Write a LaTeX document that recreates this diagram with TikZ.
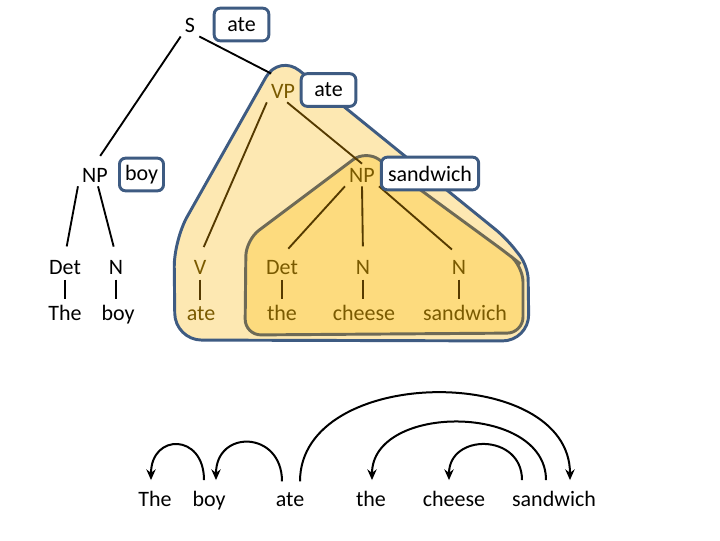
\documentclass[tikz,border=0pt]{standalone}
\usepackage{fontspec}
\setmainfont{Carlito}
\usetikzlibrary{arrows.meta}

\definecolor{vpfill}{HTML}{FDE8B2}
\definecolor{npfill}{HTML}{FDDB7E}
\definecolor{vpline}{HTML}{3E5B82}
\definecolor{npline}{HTML}{6E6A56}
\definecolor{cattext}{HTML}{7A5A00}
\definecolor{catline}{HTML}{553A00}

\tikzset{
  cat/.style={inner sep=3pt},
  leafcat/.style={inner sep=3pt, anchor=base},
  leafword/.style={inner sep=3pt, anchor=base},
  word/.style={inner sep=3pt, outer sep=5pt, anchor=base},
  headbox/.style={draw=vpline, line width=2.2pt, rounded corners=4.5pt, fill=white,
    inner xsep=0pt, minimum height=24.5pt, minimum width=#1},
  branch/.style={line width=1.4pt},
  toleaf/.style={branch, shorten >=7pt},
  bar/.style={branch, shorten <=1pt, shorten >=1pt},
  deparc/.style={line width=1.5pt, -{Stealth[length=8pt,width=7pt]}},
}

\begin{document}
\begin{tikzpicture}[x=0.75pt, y=-0.75pt, font=\fontsize{16.5}{19}\selectfont]
\useasboundingbox (0,0) rectangle (720,540);

% shaded constituents
\filldraw[fill=vpfill, draw=vpline, line width=2.2pt, rounded corners=20pt]
  (279,54) -- (174,240) -- (175,340) -- (529,341) [rounded corners=10pt] -- (528,266) -- (506,238) [rounded corners=20pt] -- cycle;
\filldraw[fill=npfill, draw=npline, line width=2.2pt, rounded corners=12pt]
  (366,150) -- (246,240) -- (245,335) -- (523,333) -- (523,266) -- (508,254) -- cycle;

% tree nodes
\node[cat] (s) at (190,25) {S};
\node[cat] (np1) at (95,175) {NP};
\node[cat, text=cattext] (vp) at (283,91) {VP};
\node[cat, text=cattext] (np2) at (362,175) {NP};

\node[leafcat] (det1) at (65,274) {Det};
\node[leafword] (the1) at (65,320) {The};
\node[leafcat] (n1) at (116,274) {N};
\node[leafword] (boy1) at (118,320) {boy};
\node[leafcat, text=cattext] (v) at (200,274) {V};
\node[leafword, text=cattext] (ate1) at (201,320) {ate};
\node[leafcat, text=cattext] (det2) at (282,274) {Det};
\node[leafword, text=cattext] (the2) at (282,320) {the};
\node[leafcat, text=cattext] (n2) at (363,274) {N};
\node[leafword, text=cattext] (cheese1) at (364,320) {cheese};
\node[leafcat, text=cattext] (n3) at (459,274) {N};
\node[leafword, text=cattext] (sandwich1) at (465,320) {sandwich};

% branches
\draw[branch, shorten >=7pt] (s.south west) -- (np1.north);
\draw[branch, shorten >=10pt] (s.south east) -- (vp.north);
\draw[toleaf] (np1.south west) -- (det1.north);
\draw[toleaf] (np1.-75) -- (n1.north);
\draw[bar] (det1.south) -- (det1.south |- the1.north);
\draw[bar] (n1.south) -- (n1.south |- boy1.north);
\draw[toleaf, catline] (vp.south west) -- (v.north);
\draw[branch, catline] (vp.-70) -- (np2.north);
\draw[toleaf, catline] (np2.south west) -- (det2.north);
\draw[toleaf, catline] (np2.south) -- (n2.north);
\draw[toleaf, catline] (np2.south east) -- (n3.north);
\draw[bar, catline] (v.south) -- (v.south |- ate1.north);
\draw[bar, catline] (det2.south) -- (det2.south |- the2.north);
\draw[bar, catline] (n2.south) -- (n2.south |- cheese1.north);
\draw[bar, catline] (n3.south) -- (n3.south |- sandwich1.north);

% heads
\node[headbox=41pt] (sbox) at (241.5,24.5) {ate};
\node[headbox=41pt] (vpbox) at (328.5,90) {ate};
\node[headbox=33pt] (np1box) at (141.5,174.5) {boy};
\node[headbox=73pt] (np2box) at (430,173.5) {sandwich};

% dependency arcs
\node[word] (thew) at (155,506) {The};
\node[word] (boyw) at (209,506) {boy};
\node[word] (atew) at (290,506) {ate};
\node[word] (thew2) at (371,506) {the};
\node[word] (cheesew) at (454,506) {cheese};
\node[word] (sandwichw) at (554,506) {sandwich};

\draw[deparc] ([xshift=-3.75pt]boyw.north) .. controls +(0,-47) and +(0,-47) .. ([xshift=-3pt]thew.north);
\draw[deparc] ([xshift=-6pt]atew.north) .. controls +(0,-51) and +(0,-51) .. ([xshift=5.25pt]boyw.north);
\draw[deparc] ([xshift=7.5pt]atew.north) .. controls +(0,-117) and +(0,-117) .. ([xshift=12pt]sandwichw.north);
\draw[deparc] ([xshift=-6pt]sandwichw.north) .. controls +(0,-77) and +(0,-77) .. ([xshift=0.75pt]thew2.north);
\draw[deparc] ([xshift=-24pt]sandwichw.north) .. controls +(0,-47) and +(0,-47) .. ([xshift=-3.75pt]cheesew.north);
\end{tikzpicture}
\end{document}
